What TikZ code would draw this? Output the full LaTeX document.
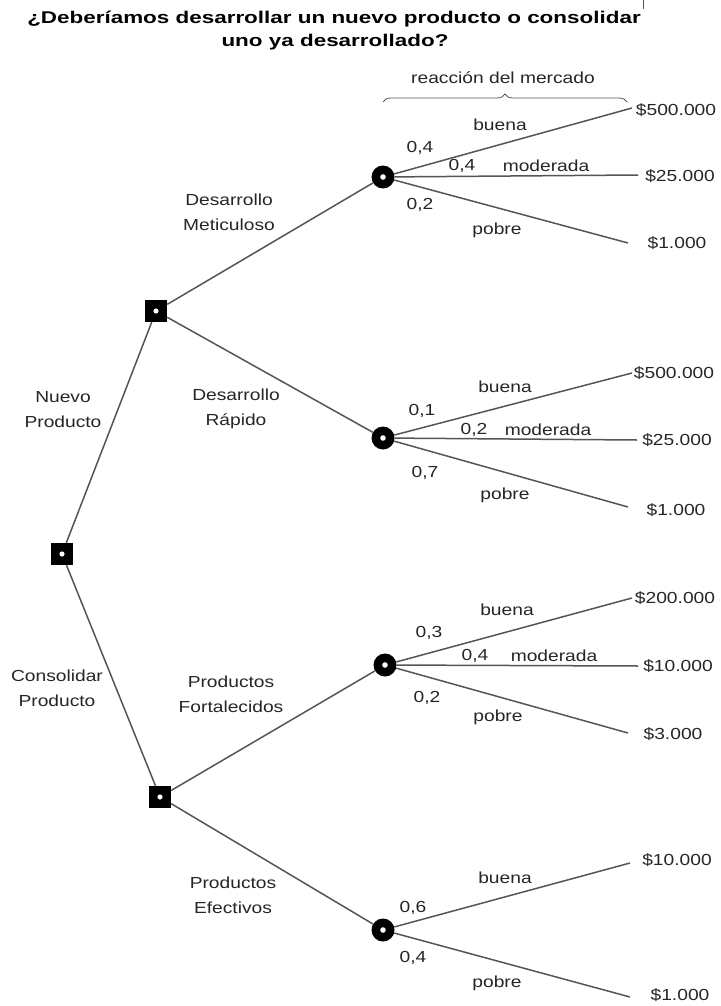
\documentclass[tikz,border=0pt]{standalone}
\usepackage{fontspec}
\setmainfont{Liberation Sans}
\newfontfamily\bodyf{Liberation Sans}[FakeStretch=1.2]
\newfontfamily\titlef{Liberation Sans}[FakeStretch=1.32]
\usetikzlibrary{decorations.pathreplacing}
\definecolor{linec}{HTML}{555555}
\definecolor{txtc}{HTML}{262626}
\tikzset{
  ln/.style={draw=linec, line width=1.5pt},
  lbl/.style={font=\bodyf\fontsize{16}{25}\selectfont, text=txtc, inner sep=0pt, align=center},
  ttl/.style={font=\titlef\bfseries\fontsize{17}{23}\selectfont, text=black, inner sep=0pt, anchor=base},
  dsq/.style={fill=black, minimum size=22pt, inner sep=0pt,
    path picture={\fill[white] (path picture bounding box.center) circle (2.6pt);}},
  chance/.style={circle, fill=black, minimum size=23pt, inner sep=0pt,
    path picture={\fill[white] (path picture bounding box.center) circle (2.8pt);}},
}
\begin{document}
\begin{tikzpicture}[x=1pt,y=-1pt]
\useasboundingbox[fill=white] (0,0) rectangle (720,1006);
% title
\node[ttl] (t1) at (334,24) {¿Deberíamos desarrollar un nuevo producto o consolidar};
\node[ttl] (t2) at (335,47) {uno ya desarrollado?};
\coordinate (tk1) at (643,0);
\coordinate (tk2) at (643,9);
\draw[linec, line width=1pt] (tk1) -- (tk2);
% brace
\coordinate (b1) at (383,102);
\coordinate (b2) at (627,102);
\draw[linec, line width=0.8pt, decorate, decoration={brace, amplitude=8pt, aspect=0.5}] (b1) -- (b2);
\node[lbl] (rm) at (503,78) {reacción del mercado};
% decision / chance nodes
\node[dsq] (r) at (62,554) {};
\node[dsq] (s1) at (156,311) {};
\node[dsq] (s2) at (160,797) {};
\node[chance] (c1) at (383,177) {};
\node[chance] (c2) at (383,438) {};
\node[chance] (c3) at (385,665) {};
\node[chance] (c4) at (383,930) {};
% main branches
\draw[ln] (r) -- (s1);
\draw[ln] (r) -- (s2);
\draw[ln] (s1) -- (c1);
\draw[ln] (s1) -- (c2);
\draw[ln] (s2) -- (c3);
\draw[ln] (s2) -- (c4);
% branch labels
\node[lbl] (l1) at (63,410) {Nuevo\\Producto};
\node[lbl] (l2) at (57,688) {Consolidar\\Producto};
\node[lbl] (l3) at (229,212) {Desarrollo\\Meticuloso};
\node[lbl] (l4) at (236,409) {Desarrollo\\Rápido};
\node[lbl] (l5) at (231,694) {Productos\\Fortalecidos};
\node[lbl] (l6) at (233,895) {Productos\\Efectivos};
% C1 outcomes
\coordinate (e11) at (632,108);
\coordinate (e12) at (638,175);
\coordinate (e13) at (628,243);
\draw[ln] (c1) -- (e11);
\draw[ln] (c1) -- (e12);
\draw[ln] (c1) -- (e13);
\node[lbl] (v11) at (676,110) {\$500.000};
\node[lbl] (v12) at (680,176) {\$25.000};
\node[lbl] (v13) at (677,243) {\$1.000};
\node[lbl] (q11) at (500,125) {buena};
\node[lbl] (p11) at (420,148) {0,4};
\node[lbl] (p12) at (462,166) {0,4};
\node[lbl] (q12) at (546,166) {moderada};
\node[lbl] (p13) at (420,205) {0,2};
\node[lbl] (q13) at (497,230) {pobre};
% C2 outcomes
\coordinate (e21) at (632,373);
\coordinate (e22) at (637,440);
\coordinate (e23) at (628,507);
\draw[ln] (c2) -- (e21);
\draw[ln] (c2) -- (e22);
\draw[ln] (c2) -- (e23);
\node[lbl] (v21) at (674,373) {\$500.000};
\node[lbl] (v22) at (677,440) {\$25.000};
\node[lbl] (v23) at (676,510) {\$1.000};
\node[lbl] (q21) at (505,387) {buena};
\node[lbl] (p21) at (422,411) {0,1};
\node[lbl] (p22) at (474,430) {0,2};
\node[lbl] (q22) at (548,430) {moderada};
\node[lbl] (p23) at (425,473) {0,7};
\node[lbl] (q23) at (505,495) {pobre};
% C3 outcomes
\coordinate (e31) at (632,598);
\coordinate (e32) at (638,666);
\coordinate (e33) at (628,733);
\draw[ln] (c3) -- (e31);
\draw[ln] (c3) -- (e32);
\draw[ln] (c3) -- (e33);
\node[lbl] (v31) at (675,598) {\$200.000};
\node[lbl] (v32) at (678,666) {\$10.000};
\node[lbl] (v33) at (673,734) {\$3.000};
\node[lbl] (q31) at (507,610) {buena};
\node[lbl] (p31) at (429,633) {0,3};
\node[lbl] (p32) at (475,656) {0,4};
\node[lbl] (q32) at (554,656) {moderada};
\node[lbl] (p33) at (427,698) {0,2};
\node[lbl] (q33) at (498,717) {pobre};
% C4 outcomes
\coordinate (e41) at (630,863);
\coordinate (e43) at (630,997);
\draw[ln] (c4) -- (e41);
\draw[ln] (c4) -- (e43);
\node[lbl] (v41) at (677,860) {\$10.000};
\node[lbl] (v43) at (680,995) {\$1.000};
\node[lbl] (q41) at (505,878) {buena};
\node[lbl] (p41) at (413,908) {0,6};
\node[lbl] (p43) at (413,958) {0,4};
\node[lbl] (q43) at (497,983) {pobre};
\end{tikzpicture}
\end{document}
